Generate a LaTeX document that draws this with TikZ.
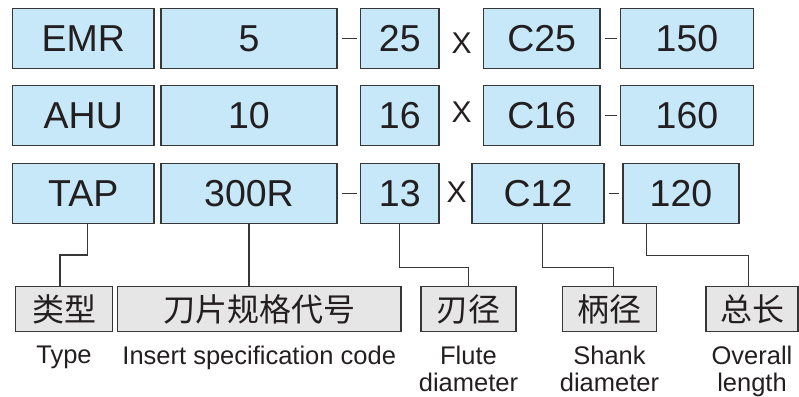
\documentclass[tikz,border=0pt]{standalone}
\usepackage{fontspec}
\setmainfont{Liberation Sans}
\newfontfamily\cjk{Noto Sans CJK SC}
\usepackage{xcolor}
\usepackage{tikz}
\usetikzlibrary{positioning}
\definecolor{boxblue}{RGB}{199,232,248}
\definecolor{boxgray}{RGB}{230,230,231}
\definecolor{inkgray}{RGB}{55,55,55}
\definecolor{inkblack}{RGB}{35,31,32}

\begin{document}
\begin{tikzpicture}[
  x=1pt, y=-1pt,
  codebox/.style={draw=inkgray, line width=1.3pt, fill=boxblue, minimum height=60pt, inner sep=0pt,
               text=inkblack, font=\fontsize{37.5}{40}\selectfont},
  namebox/.style={draw=inkgray, line width=1.3pt, fill=boxgray, minimum height=45pt, inner sep=0pt,
               text=inkblack, font=\cjk\fontsize{32}{36}\selectfont},
  gloss/.style={inner sep=0pt, align=center, text=inkblack, font=\fontsize{25.5}{27.5}\selectfont},
  times/.style={inner sep=0pt, text=inkblack, font=\fontsize{30}{34}\selectfont},
  sep/.style={draw=inkgray, line width=1.2pt, shorten <=4pt, shorten >=3pt},
  link/.style={draw=inkgray, line width=1.3pt}
]
\useasboundingbox (0,0) rectangle (799,396);

% row 1
\node[codebox, minimum width=141.3pt] (emr) at (83.3,38.7) {EMR};
\node[codebox, minimum width=176pt] (five) at (249,38.7) {5};
\node[codebox, minimum width=78.5pt] (d25) at (399.8,38.7) {25};
\node[times] (x1) at (461.7,43) {X};
\node[codebox, minimum width=116.7pt] (c25) at (541.7,38.7) {C25};
\node[codebox, minimum width=132.6pt] (l150) at (687,38.7) {150};

% row 2
\node[codebox, minimum width=141.3pt] (ahu) at (83.3,115.7) {AHU};
\node[codebox, minimum width=176pt] (ten) at (249,115.7) {10};
\node[codebox, minimum width=78.5pt] (d16) at (399.8,115.7) {16};
\node[times] (x2) at (461.7,112.5) {X};
\node[codebox, minimum width=116.7pt] (c16) at (541.7,115.7) {C16};
\node[codebox, minimum width=132.6pt] (l160) at (687,115.7) {160};

% row 3
\node[codebox, minimum width=141.3pt] (tap) at (83.3,193.2) {TAP};
\node[codebox, minimum width=176pt] (r300) at (249,193.2) {300R};
\node[codebox, minimum width=78.5pt] (d13) at (399.8,193.2) {13};
\node[times] (x3) at (456.7,192.5) {X};
\node[codebox, minimum width=132pt] (c12) at (538,193.2) {C12};
\node[codebox, minimum width=116pt] (l120) at (681,193.2) {120};

\draw[sep] (five) -- (d25);
\draw[sep] (c25) -- (l150);
\draw[sep] (c16) -- (l160);
\draw[sep] (r300) -- (d13);
\draw[sep] (c12) -- (l120);

% legend
\node[namebox, minimum width=96.6pt] (type) at (64,309.2) {类型};
\node[namebox, minimum width=283.7pt] (insert) at (259.2,309.2) {刀片规格代号};
\node[namebox, minimum width=95pt] (flute) at (468.5,309.2) {刃径};
\node[namebox, minimum width=94.4pt] (shank) at (609.5,309.2) {柄径};
\node[namebox, minimum width=92pt] (total) at (752,309.2) {总长};

\node[gloss, below=13pt of type] (type-en) {Type};
\node[gloss, below=13pt of insert] (insert-en) {Insert specification code};
\node[gloss, below=13pt of flute] (flute-en) {Flute\\diameter};
\node[gloss, below=13pt of shank] (shank-en) {Shank\\diameter};
\node[gloss, below=13pt of total] (total-en) {Overall\\length};

\draw[link] ([xshift=4pt]tap.south) -- ++(0,31) -| ([xshift=-4pt]type.north);
\draw[link] (r300.south) -- (r300.south |- insert.north);
\draw[link] (d13.south) -- ++(0,43.4) -| (flute.north);
\draw[link] ([xshift=4.7pt]c12.south) -- ++(0,43.4) -| ([xshift=4pt]shank.north);
\draw[link] ([xshift=-34.3pt]l120.south) -- ++(0,31.7) -| ([xshift=-3.7pt]total.north);
\end{tikzpicture}
\end{document}
